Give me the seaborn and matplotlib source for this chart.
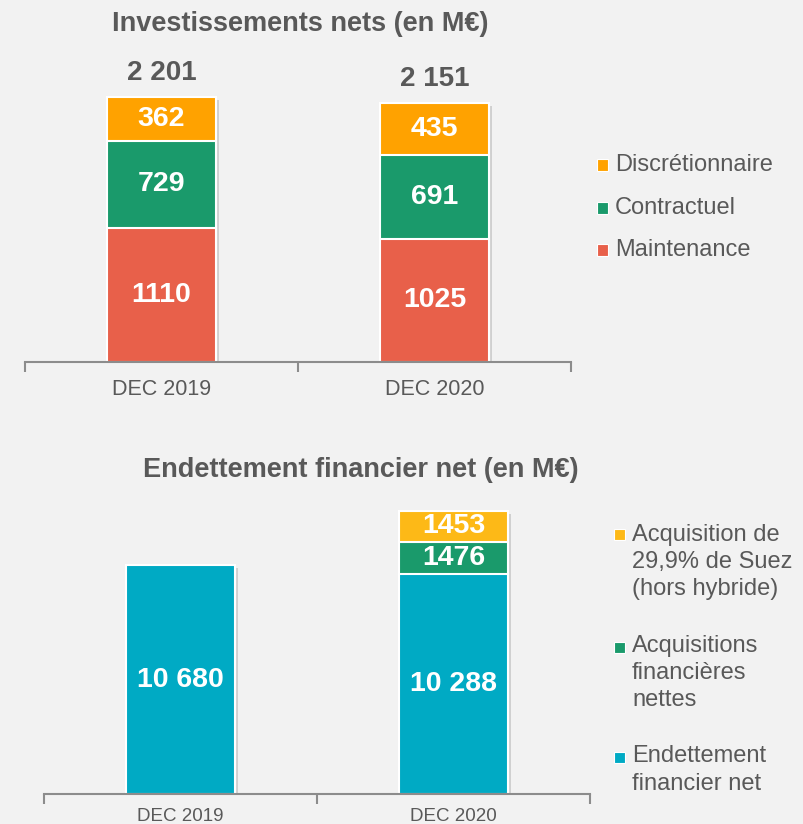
import matplotlib
matplotlib.use("Agg")
import matplotlib.pyplot as plt
import matplotlib.patheffects as pe
from matplotlib.patches import Rectangle
import numpy as np
import pandas as pd
import seaborn as sns

# --- data ---
periods = ["DEC 2019", "DEC 2020"]

# Investissements nets (en M€)
inv_labels = ["Maintenance", "Contractuel", "Discrétionnaire"]
maintenance = [1110, 1025]
contractuel = [729, 691]
discretionnaire = [362, 435]
inv_totals = [2201, 2151]

# Endettement financier net (en M€)
dette_labels = ["Endettement\nfinancier net", "Acquisitions\nfinancières\nnettes",
                "Acquisition de\n29,9% de Suez\n(hors hybride)"]
endettement = [10680, 10288]
acquisitions = [0, 1476]
suez = [0, 1453]

inv_colors = ["#E8604A", "#1A9A6B", "#FFA200"]
dette_colors = ["#00AAC4", "#1A9A6B", "#FDB917"]

BG = "#F2F2F2"
TXT = "#595959"
AXC = "#8C8C8C"

sns.set_style("white")
plt.rcParams["font.family"] = ["Liberation Sans", "DejaVu Sans"]

W, H = 804, 824
fig = plt.figure(figsize=(W / 100, H / 100), dpi=100, facecolor=BG)


def fmt(v):
    return f"{v:,}".replace(",", " ") if v >= 10000 else str(v)


def stacked(ax, layers, colors, ymax):
    """ Draw stacked bars with seaborn, tallest cumulative layer first. """
    cum = np.cumsum(np.array(layers), axis=0)
    for k in range(len(layers) - 1, -1, -1):
        df = pd.DataFrame({"period": periods, "value": cum[k]})
        n0 = len(ax.patches)
        sns.barplot(data=df, x="period", y="value", color=colors[k], width=0.4,
                    edgecolor="white", linewidth=1.5, saturation=1, ax=ax)
        if k == len(layers) - 1:
            for p in ax.patches[n0:]:
                p.set_path_effects([pe.SimplePatchShadow(offset=(2, -2), shadow_rgbFace="#b0b0b0", alpha=0.5),
                                    pe.Normal()])
    # value labels in segments
    for k, vals in enumerate(layers):
        for i, v in enumerate(vals):
            if v <= 0:
                continue
            mid = cum[k][i] - v / 2
            ax.text(i, mid, fmt(v), ha="center", va="center", color="white",
                    fontsize=20.5, fontweight="bold")
    ax.set_xlim(-0.5, 1.5)
    ax.set_ylim(0, ymax)
    ax.set_facecolor(BG)
    ax.set_xlabel("")
    ax.set_ylabel("")
    ax.set_yticks([])
    for s in ["left", "right", "top"]:
        ax.spines[s].set_visible(False)
    ax.spines["bottom"].set_color(AXC)
    ax.spines["bottom"].set_linewidth(1.5)
    ax.set_xticks([-0.5, 0.5, 1.5], minor=True)
    ax.tick_params(axis="x", which="minor", bottom=True, length=7, width=1.5,
                   color=AXC, direction="out")
    ax.tick_params(axis="x", which="major", bottom=True, length=0)


def legend(labels, colors, x_sq, x_txt, y_first, y_center):
    for lab, col, y1, yc in zip(labels, colors, y_first, y_center):
        fig.patches.append(Rectangle(((x_sq - 5.5) / W, 1 - (y1 + 5.5) / H), 11 / W, 11 / H,
                                     transform=fig.transFigure, facecolor=col,
                                     edgecolor="white", linewidth=0.8))
        fig.text(x_txt / W, 1 - yc / H, lab, ha="left", va="center", fontsize=17,
                 color=TXT, linespacing=1.32)


# --- top panel ---
ax1 = fig.add_axes([25 / W, 1 - 362 / H, 546 / W, 313 / H])
stacked(ax1, [maintenance, contractuel, discretionnaire], inv_colors, 2600)
ax1.set_xticks(range(len(periods)))
ax1.set_xticklabels(periods, fontsize=15.5, color=TXT)
ax1.tick_params(axis="x", which="major", pad=12)
for i, t in enumerate(inv_totals):
    ax1.annotate(f"{t:,}".replace(",", " "), (i, t), xytext=(0, 17), textcoords="offset points",
                 ha="center", va="center", fontsize=20, fontweight="bold", color=TXT)
fig.text(300 / W, 1 - 24 / H, "Investissements nets (en M€)", ha="center", va="center",
         fontsize=19.5, fontweight="bold", color=TXT)
legend(inv_labels[::-1], inv_colors[::-1], 602.5, 615, [165, 208, 250], [165, 208, 250])

# --- bottom panel ---
ax2 = fig.add_axes([44 / W, 1 - 794 / H, 546 / W, 300 / H])
stacked(ax2, [endettement, acquisitions, suez], dette_colors, 14000)
ax2.set_xticks(range(len(periods)))
ax2.set_xticklabels(periods, fontsize=13.5, color=TXT)
ax2.tick_params(axis="x", which="major", pad=10)
fig.text(361 / W, 1 - 470 / H, "Endettement financier net (en M€)", ha="center", va="center",
         fontsize=19.5, fontweight="bold", color=TXT)
legend(dette_labels[::-1], dette_colors[::-1], 620, 632, [534, 647, 757], [562, 673, 770])

fig.savefig("out.png", dpi=100, facecolor=BG)
